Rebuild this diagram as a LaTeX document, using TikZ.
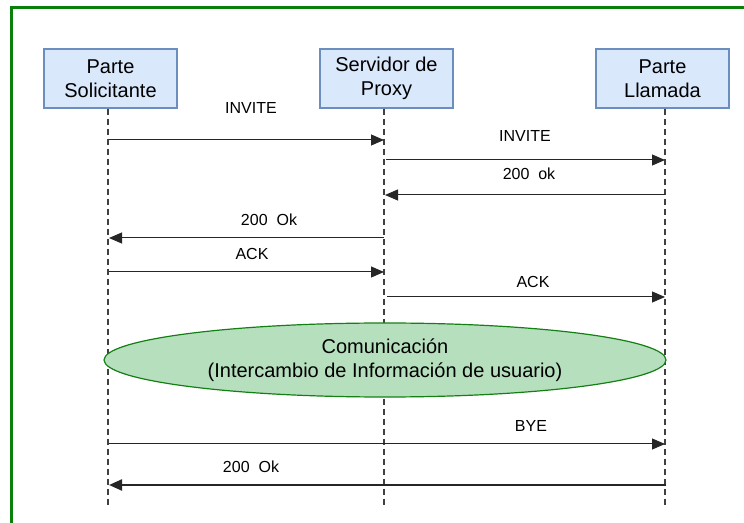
\documentclass[tikz,border=0pt]{standalone}
\usepackage{fontspec}
\setmainfont{Liberation Sans}
\usepackage{xcolor}
\usepackage{tikz}
\usetikzlibrary{shapes,shapes.geometric,arrows,arrows.meta}
\usetikzlibrary{calc}
\definecolor{boxfill}{RGB}{218,232,252}
\definecolor{boxline}{RGB}{108,142,191}
\definecolor{ovalfill}{RGB}{182,223,190}
\definecolor{ovalline}{RGB}{20,128,20}
\definecolor{framegreen}{RGB}{10,128,10}
\tikzset{
    party/.style={draw=boxline, fill=boxfill, line width=0.6pt, minimum width=66.5pt, minimum height=29.5pt, align=center, inner sep=0pt, font=\fontsize{10}{12}\selectfont},
    oval/.style={draw=ovalline, fill=ovalfill, ellipse, line width=0.6pt, minimum width=281pt, minimum height=37pt, inner sep=0pt, align=center, font=\fontsize{10}{12}\selectfont},
    lifeline/.style={draw=black!75, line width=0.6pt, dash pattern=on 3pt off 2pt},
    msg/.style={draw=black!85, line width=0.5pt, -{Triangle[length=6.5pt,width=5.5pt]}},
    msglabel/.style={inner sep=0pt, font=\fontsize{8}{9.6}\selectfont}}

\begin{document}
\begin{tikzpicture}[x=0.5pt,y=-0.5pt]
\useasboundingbox (0,0) rectangle (744,523);
\draw [framegreen, line width=1.5pt] (11,523) -- (11,8) -- (744,8);

\node (sol) [party] at (110.5,78.5) {Parte\\Solicitante};
\node (prx) [party] at (386.5,78.5) {Servidor de\\Proxy};
\node (lla) [party] at (662.5,78.5) {Parte\\Llamada};

\coordinate (solE) at (108,508);
\coordinate (prxE) at (384,508);
\coordinate (llaE) at (665,508);
\draw [lifeline] (sol.south -| solE) -- (solE);
\draw [lifeline] (prx.south -| prxE) -- (prxE);
\draw [lifeline] (lla.south -| llaE) -- (llaE);

% message rows
\coordinate (S1) at (109,140);  \coordinate (P1) at (384,140);
\coordinate (P2) at (386,160);  \coordinate (L2) at (665,160);
\coordinate (L3) at (665,195);  \coordinate (P3) at (385,195);
\coordinate (P4) at (384,238);  \coordinate (S4) at (109,238);
\coordinate (S5) at (109,272);  \coordinate (P5) at (384,272);
\coordinate (P6) at (387,297);  \coordinate (L6) at (665,297);
\coordinate (S8) at (109,444);  \coordinate (L8) at (665,444);
\coordinate (L9) at (666,485);  \coordinate (S9) at (109,485);

\draw [msg] (S1) -- (P1);
\draw [msg] (P2) -- (L2);
\draw [msg] (L3) -- (P3);
\draw [msg] (P4) -- (S4);
\draw [msg] (S5) -- (P5);
\draw [msg] (P6) -- (L6);
\draw [msg] (S8) -- (L8);
\draw [msg, line width=1.1pt] (L9) -- (S9);

\node (m1) [msglabel] at (251,108) {INVITE};
\node (m2) [msglabel] at (525,136) {INVITE};
\node (m3) [msglabel] at (529,174) {200~ ok};
\node (m4) [msglabel] at (269,220) {200~ Ok};
\node (m5) [msglabel] at (252,254) {ACK};
\node (m6) [msglabel] at (533,282) {ACK};
\node (m8) [msglabel] at (531,426) {BYE};
\node (m9) [msglabel] at (251,467) {200~ Ok};

\node (com) [oval] at (385,360) {Comunicación\\(Intercambio de Información de usuario)};
%\draw [lifeline] (com.west) -- (com.east);
\end{tikzpicture}
\end{document}
